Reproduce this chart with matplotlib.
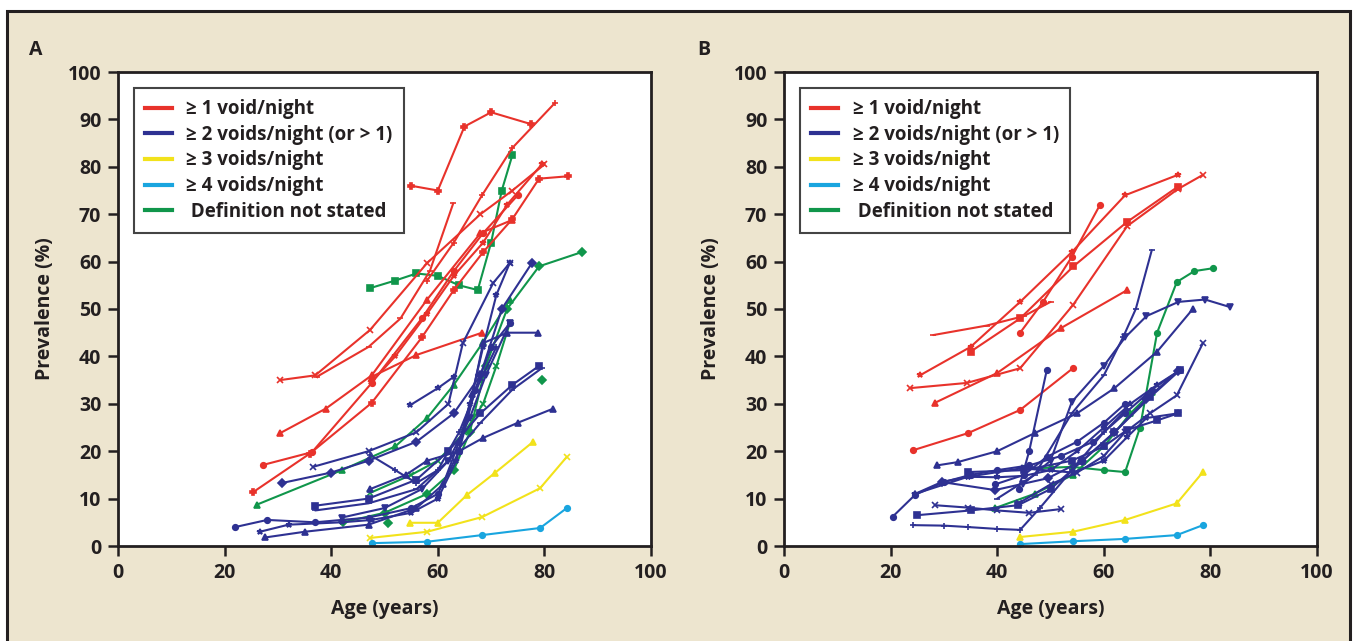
import matplotlib.pyplot as plt
from matplotlib.lines import Line2D
from matplotlib.patches import Rectangle

plt.rcParams['font.family'] = ['Open Sans', 'DejaVu Sans']
plt.rcParams['font.weight'] = 'bold'
plt.rcParams['axes.labelweight'] = 'bold'

red = '#e8322b'
blue = '#2e3192'
yellow = '#f2e21b'
cyan = '#19a5df'
green = '#10964b'
beige = '#ede5cf'
ink = '#231f20'

legend_labels = ['\u2265 1 void/night', '\u2265 2 voids/night (or > 1)',
                 '\u2265 3 voids/night', '\u2265 4 voids/night', ' Definition not stated']
x_ticks = [0, 20, 40, 60, 80, 100]
y_ticks = [0, 10, 20, 30, 40, 50, 60, 70, 80, 90, 100]

# ---- panel A : (ages, prevalence) per study ----
a_red = [
    ([55, 60, 65, 70, 77.5], [76, 75, 88.5, 91.5, 89]),
    ([58, 63, 68.3, 74, 82], [56, 64, 74, 84, 93.5]),
    ([30.4, 37, 47.3, 58, 68, 74, 80], [35, 36, 45.6, 59.7, 70, 75, 80.5]),
    ([37.3, 47, 53, 58.5, 62.9], [35.7, 42, 48, 58, 72.3]),
    ([47.5, 52, 58, 63, 68.5, 73, 79.5], [34.5, 40, 49, 57, 64, 72, 80.5]),
    ([25.4, 36, 47.6, 57, 63, 68.5, 74, 79, 84.4], [11.4, 19.5, 30.2, 44, 54, 62, 69, 77.5, 78]),
    ([27.2, 36.4, 47.6, 57, 63, 68.5, 75], [17.1, 19.8, 34.4, 48, 58, 66, 74]),
    ([30.4, 39, 47.6, 58, 68, 74], [23.8, 29, 36, 52, 66, 68.8]),
    ([47.6, 56, 68.3], [35.7, 40.3, 45]),
]
a_red_mk = ['P', '+', 'x', '_', '*', 'P', 'o', '^', '^']

a_green = [
    ([47.3, 52, 56, 60, 64, 67.5, 70, 72, 74], [54.4, 56, 57.5, 57, 55, 54, 64, 75, 82.5]),
    ([26, 42, 52, 58, 63, 68.5, 73.5], [8.7, 16, 21, 27, 34, 43, 52]),
    ([42.2, 50, 58, 63, 66, 69, 73, 79, 87], [5, 7, 11, 16, 24, 38, 50, 59, 62]),
    ([47.3, 55, 60, 65, 68.5, 71, 73.5], [11.2, 15, 18, 24, 30, 38, 47]),
    ([50.7], [4.9]),
    ([79.5], [35]),
]
a_green_mk = ['s', '^', 'D', 'x', 'D', 'D']

a_blue = [
    ([22, 28, 37, 47, 55, 60, 64, 67, 70, 73.5], [4, 5.5, 5, 6, 8, 11, 20, 33, 42, 47]),
    ([26.6, 32, 42, 47.6, 55, 60, 63.5, 66, 68.5, 71, 73.5], [3, 4.5, 5, 5.5, 7, 10, 18, 30, 42, 53, 59.7]),
    ([27.6, 35, 47, 56, 61, 64, 66.5, 68.5, 73, 78.8], [1.8, 3, 4.5, 8, 13, 22, 32, 42.8, 45, 45]),
    ([30.8, 40, 47, 56, 63, 68, 72, 77.6], [13.3, 15.5, 18, 22, 28, 36, 50, 59.6]),
    ([36.6, 47, 56, 62, 64.7, 70.4, 73.5], [16.7, 20, 24, 30, 42.8, 55.5, 59.7]),
    ([37, 47, 56, 62, 68, 74, 79], [8.5, 10, 14, 20, 28, 34, 38]),
    ([37, 47, 56, 62, 68, 74, 79.5], [7.5, 9, 12, 18, 26, 33, 37.5]),
    ([47.3, 52, 56, 60, 64, 68, 71], [19.2, 16, 13.3, 16, 24, 35, 42]),
    ([54.8, 60, 63], [29.7, 33.3, 35.7]),
    ([47.3, 54, 58, 64, 68.5, 75, 81.7], [12, 15, 18, 20, 22.8, 26, 29]),
    ([42, 50, 57, 62, 66, 69, 73.5], [6, 8, 12, 18, 27, 36, 47]),
]
a_blue_mk = ['o', '*', '^', 'D', 'x', 's', '_', '+', '*', '^', 'v']

a_yellow = [
    ([47.3, 58, 68.3, 79.2, 84.2], [1.7, 3, 6.1, 12.2, 18.8]),
    ([54.8, 60, 65.5, 70.7, 77.9], [4.9, 4.9, 10.8, 15.4, 22]),
]
a_yellow_mk = ['x', '^']
a_cyan = [([47.6, 58, 68.3, 79.2, 84.2], [0.6, 0.9, 2.3, 3.8, 8])]
a_cyan_mk = ['o']

# ---- panel B ----
b_red = [
    ([25.5, 35, 44.3, 54, 64, 73.9], [36, 42, 51.5, 62, 74, 78.3]),
    ([28, 38, 45, 50], [44.5, 46.5, 48.5, 51.5]),
    ([44.3, 48.6, 54, 59.3], [45, 51.5, 61, 72]),
    ([23.6, 34.3, 44.3, 54.2, 64.4, 73.9, 78.6], [33.3, 34.4, 37.5, 50.8, 67.5, 75.3, 78.3]),
    ([35, 44.3, 54.3, 64.4, 73.9], [41, 48, 59, 68.4, 75.8]),
    ([28.3, 40, 52, 64.4], [30.2, 36.5, 46, 54]),
    ([24.2, 34.5, 44.3, 54.2], [20.2, 23.8, 28.7, 37.5]),
]
b_red_mk = ['*', '_', 'o', 'x', 's', '^', 'o']

b_green = [
    ([39.6, 47, 54.2, 60, 65, 69], [8, 11, 15, 21, 28, 32.5]),
    ([44.8, 50, 54, 60, 64, 66.8, 70, 73.7, 77, 80.5], [16.4, 16.5, 16.7, 16, 15.6, 25, 45, 55.7, 58, 58.6]),
]
b_green_mk = ['^', 'o']

b_blue = [
    ([20.4, 24.6, 30, 35, 40, 46, 52, 58, 64, 69, 74.3], [6.2, 10.8, 13.5, 15, 16, 17, 19, 22, 28, 33, 37.1]),
    ([24.6, 29.6, 34.5, 40, 45, 50, 55, 60, 65, 70, 74.3], [11, 13.5, 14.6, 14.5, 14.8, 16, 20, 25, 30, 34, 37.1]),
    ([28.7, 32.6, 40, 47, 55, 62, 70, 76.7], [17, 17.7, 20, 23.8, 28, 33.3, 41, 50]),
    ([40, 47, 54, 60, 63.6, 66, 69], [10, 15, 28, 36, 44, 50, 62.4]),
    ([44.8, 50, 54, 60, 64, 68, 74, 79, 83.7], [13, 18, 30.4, 38, 44, 48.5, 51.5, 52, 50.4]),
    ([34.5, 45, 54, 60, 64.4, 70, 74], [15.6, 16, 18, 21, 24.5, 26.5, 28]),
    ([44, 50, 55, 60, 64, 68.7, 73.7, 78.6], [9, 13, 15.5, 19, 24, 28, 31.8, 42.8]),
    ([44, 46, 49.3], [12, 20, 37.1]),
    ([24.2, 30, 34.5, 40, 44.3, 48, 54, 60, 64.4], [4.4, 4.3, 4, 3.6, 3.4, 8, 16, 24, 29]),
    ([28.4, 34.5, 40, 46, 52], [8.6, 8.1, 7.5, 7, 7.8]),
    ([25, 35, 43.9, 50, 56, 62, 68.7, 74.3], [6.5, 7.5, 8.6, 12, 18, 24, 31.4, 37.1]),
    ([29.6, 39.6, 49.5, 56, 62, 68, 74], [13.5, 11.8, 14.3, 18, 24, 31, 37]),
    ([24.6, 34.5, 44.6, 54.2, 60, 64.4, 68, 74], [11, 14.6, 16.4, 15.5, 18, 23, 27, 28]),
    ([39.6, 45, 49.3, 55, 60, 64], [13, 15, 18.8, 22, 26, 30]),
]
b_blue_mk = ['o', '*', '^', '_', 'v', 's', 'x', 'o', '+', 'x', 's', 'D', '*', 'o']

b_yellow = [([44.3, 54.2, 64, 73.7, 78.6], [1.9, 3, 5.5, 9, 15.6])]
b_yellow_mk = ['^']
b_cyan = [([44.3, 54.2, 64, 73.7, 78.6], [0.4, 1, 1.5, 2.3, 4.4])]
b_cyan_mk = ['o']


def draw_group(ax, group, markers, color):
    for (xs, ys), mk in zip(group, markers):
        ax.plot(xs, ys, color=color, lw=1.5, marker=mk, ms=4, mew=1.2,
                clip_on=False, solid_capstyle='round')


fig = plt.figure(figsize=(13.55, 6.41), dpi=100)
fig.patch.set_facecolor('white')
fig.patches.append(Rectangle((7 / 1355, -0.02), 1343 / 1355, 630 / 641 + 0.02,
                             transform=fig.transFigure, facecolor=beige,
                             edgecolor=ink, lw=2.2, zorder=-10))

panels = [
    ('A', 118, 29, [(a_green, a_green_mk, green), (a_red, a_red_mk, red),
                    (a_blue, a_blue_mk, blue), (a_yellow, a_yellow_mk, yellow),
                    (a_cyan, a_cyan_mk, cyan)]),
    ('B', 784, 697, [(b_red, b_red_mk, red), (b_green, b_green_mk, green),
                     (b_blue, b_blue_mk, blue), (b_yellow, b_yellow_mk, yellow),
                     (b_cyan, b_cyan_mk, cyan)]),
]

for letter, left, letter_x, groups in panels:
    ax = fig.add_axes([left / 1355, 95 / 641, 533 / 1355, 474 / 641])
    ax.set_facecolor('white')
    for group, mks, col in groups:
        draw_group(ax, group, mks, col)
    ax.set_xlim(0, 100)
    ax.set_ylim(0, 100)
    ax.set_xticks(x_ticks)
    ax.set_yticks(y_ticks)
    ax.tick_params(direction='out', length=7, width=1.8, labelsize=14,
                   colors=ink, pad=5)
    for lbl in ax.get_xticklabels() + ax.get_yticklabels():
        lbl.set_fontweight('bold')
    for sp in ax.spines.values():
        sp.set_linewidth(2)
        sp.set_color(ink)
    ax.set_xlabel('Age (years)', fontsize=14, fontweight='bold', color=ink, labelpad=12)
    ax.set_ylabel('Prevalence (%)', fontsize=14, fontweight='bold', color=ink, labelpad=9)

    handles = [Line2D([], [], color=c, lw=3) for c in [red, blue, yellow, cyan, green]]
    leg = ax.legend(handles, legend_labels, loc='upper left',
                    bbox_to_anchor=(16 / 533, 1 - 16 / 474), borderaxespad=0,
                    prop={'size': 13.5, 'weight': 'bold'}, fancybox=False,
                    framealpha=1, edgecolor='#444444',
                    handlelength=1.45, handletextpad=0.75, labelspacing=0.3,
                    borderpad=0.6)
    leg.get_frame().set_linewidth(1.5)
    for t in leg.get_texts():
        t.set_color(ink)

    fig.text(letter_x / 1355, 1 - 55 / 641, letter, fontsize=14, fontweight='bold',
             color=ink, va='baseline', ha='left')

fig.savefig('out.png', dpi=100, facecolor=fig.get_facecolor())
